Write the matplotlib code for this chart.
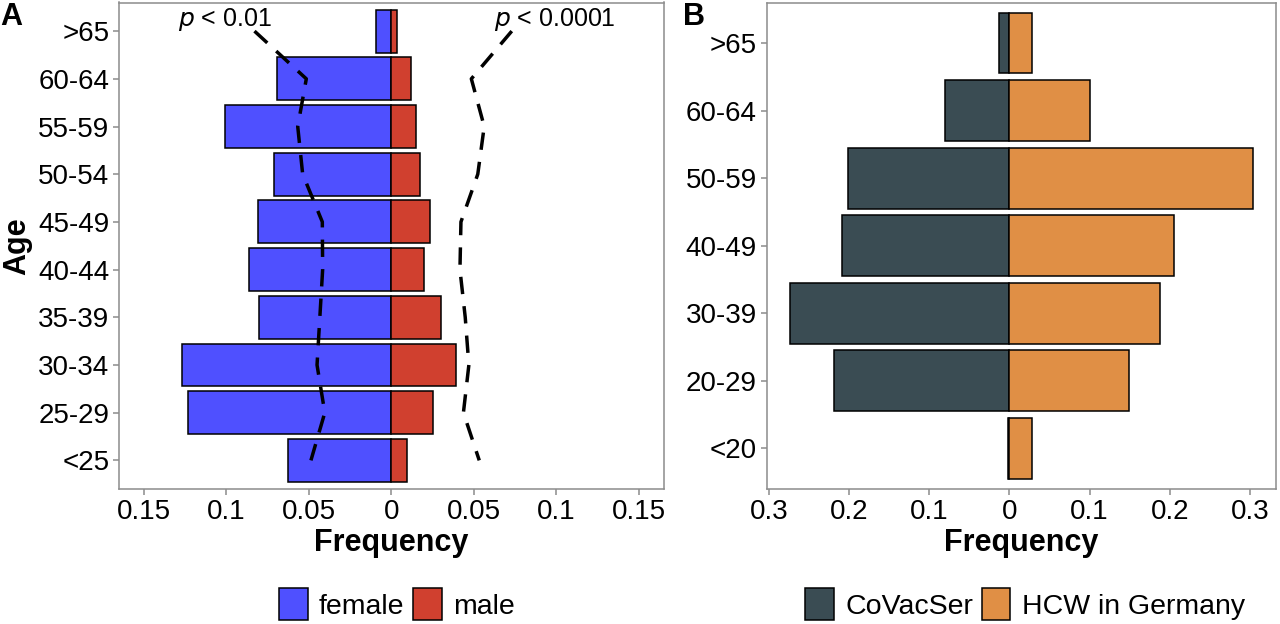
import numpy as np
import matplotlib
matplotlib.use('Agg')
import matplotlib.pyplot as plt
from matplotlib.patches import Patch

plt.rcParams['font.family'] = ['Liberation Sans', 'DejaVu Sans']

# Panel A: age groups (top to bottom)
ages_a = ['>65', '60-64', '55-59', '50-54', '45-49', '40-44', '35-39', '30-34', '25-29', '<25']
female = [0.0093, 0.0695, 0.1006, 0.0708, 0.0810, 0.0861, 0.0799, 0.1268, 0.1234, 0.0628]
male = [0.0032, 0.0119, 0.0149, 0.0171, 0.0234, 0.0201, 0.0299, 0.0390, 0.0251, 0.0095]
# reference distributions (dashed lines)
ref_female = [0.0829, 0.0515, 0.0567, 0.0537, 0.0418, 0.0416, 0.0433, 0.0450, 0.0403, 0.0487]
ref_male = [0.0730, 0.0485, 0.0563, 0.0524, 0.0422, 0.0416, 0.0448, 0.0470, 0.0437, 0.0533]

# Panel B
ages_b = ['>65', '60-64', '50-59', '40-49', '30-39', '20-29', '<20']
covacser = [0.0131, 0.0804, 0.2020, 0.2095, 0.2740, 0.2190, 0.0015]
hcw = [0.0276, 0.1010, 0.3040, 0.2049, 0.1880, 0.1497, 0.0280]

c_female = '#4F50FF'
c_male = '#D0402F'
c_cov = '#3A4C53'
c_hcw = '#E08F45'
grey = '#8C8C8C'
fs = 20

fig = plt.figure(figsize=(12.8, 6.24), dpi=100)
axA = fig.add_axes([119 / 1280, 135 / 624, 544.6 / 1280, 486.5 / 624])
axB = fig.add_axes([766.7 / 1280, 135 / 624, 509.3 / 1280, 486.5 / 624])


def style(ax):
    for s in ax.spines.values():
        s.set_color(grey)
        s.set_linewidth(1.1)
    ax.tick_params(axis='both', colors=grey, labelcolor='black', labelsize=fs,
                   length=4, width=1.1, direction='out', pad=3)


# ---- A ----
ya = np.arange(len(ages_a))[::-1]
axA.barh(ya, -np.array(female), height=0.9, color=c_female, edgecolor='black', linewidth=1.1)
axA.barh(ya, male, height=0.9, color=c_male, edgecolor='black', linewidth=1.1)
axA.plot(-np.array(ref_female), ya, color='black', lw=2.5, dashes=(5, 3.5))
axA.plot(ref_male, ya, color='black', lw=2.5, dashes=(5, 3.5))
axA.text(-0.101, ya[0] + 0.24, r'$\it{p}$ < 0.01', fontsize=18, ha='center', va='center')
axA.text(0.099, ya[0] + 0.24, r'$\it{p}$ < 0.0001', fontsize=18, ha='center', va='center')
axA.set_xlim(-0.165, 0.165)
axA.set_ylim(-0.6, len(ages_a) - 0.4)
xt = [-0.15, -0.1, -0.05, 0, 0.05, 0.1, 0.15]
axA.set_xticks(xt)
axA.set_xticklabels(['0.15', '0.1', '0.05', '0', '0.05', '0.1', '0.15'])
axA.set_yticks(ya)
axA.set_yticklabels(ages_a)
axA.set_xlabel('Frequency', fontsize=22, fontweight='bold', labelpad=2)
axA.set_ylabel('Age', fontsize=22, fontweight='bold', labelpad=4)
style(axA)

# ---- B ----
yb = np.arange(len(ages_b))[::-1]
axB.barh(yb, -np.array(covacser), height=0.9, color=c_cov, edgecolor='black', linewidth=1.1)
axB.barh(yb, hcw, height=0.9, color=c_hcw, edgecolor='black', linewidth=1.1)
axB.set_xlim(-0.3029, 0.3325)
axB.set_ylim(-0.6, len(ages_b) - 0.4)
axB.set_xticks([-0.3, -0.2, -0.1, 0, 0.1, 0.2, 0.3])
axB.set_xticklabels(['0.3', '0.2', '0.1', '0', '0.1', '0.2', '0.3'])
axB.set_yticks(yb)
axB.set_yticklabels(ages_b)
axB.set_xlabel('Frequency', fontsize=22, fontweight='bold', labelpad=2)
style(axB)

fig.text(0.0, 0.972, 'A', fontsize=22, fontweight='bold', ha='left', va='center')
fig.text(683 / 1280, 0.972, 'B', fontsize=22, fontweight='bold', ha='left', va='center')

leg_kw = dict(loc='center', ncol=2, frameon=False, fontsize=20.5, handlelength=1.0,
              handleheight=1.35, handletextpad=0.4, columnspacing=0.3)
fig.legend(handles=[Patch(facecolor=c_female, edgecolor='black', linewidth=1.1, label='female'),
                    Patch(facecolor=c_male, edgecolor='black', linewidth=1.1, label='male')],
           bbox_to_anchor=(397 / 1280, 20 / 624), **leg_kw)
fig.legend(handles=[Patch(facecolor=c_cov, edgecolor='black', linewidth=1.1, label='CoVacSer'),
                    Patch(facecolor=c_hcw, edgecolor='black', linewidth=1.1, label='HCW in Germany')],
           bbox_to_anchor=(1025 / 1280, 20 / 624), **leg_kw)

fig.savefig('out.png', dpi=100)
